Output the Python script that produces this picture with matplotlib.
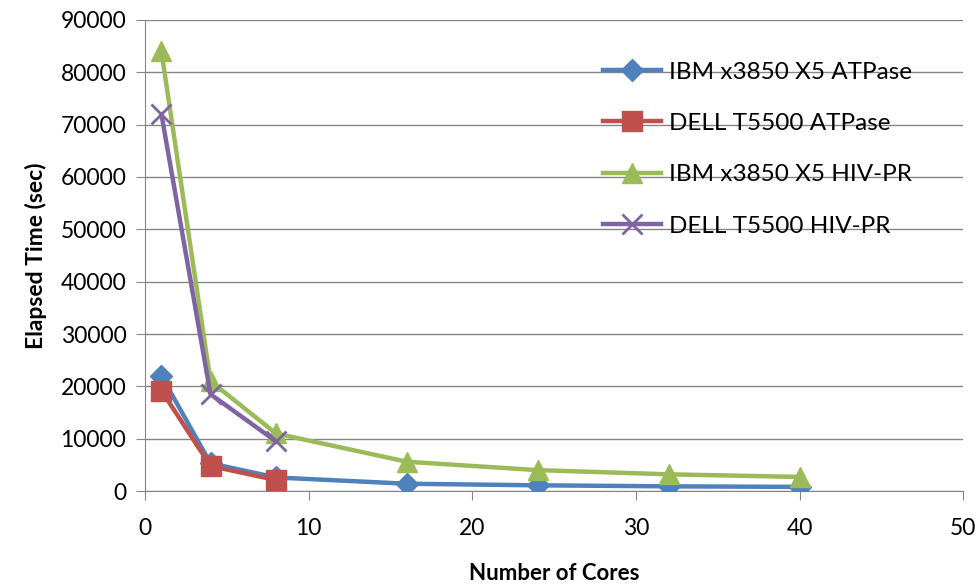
import matplotlib.pyplot as plt

plt.rcParams['font.family'] = ['Lato', 'DejaVu Sans']

# data
cores_full = [1, 4, 8, 16, 24, 32, 40]
cores_dell = [1, 4, 8]

ibm_atpase = [22000, 5300, 2600, 1400, 1100, 900, 800]
dell_atpase = [19200, 4800, 2100]
ibm_hiv = [84000, 21000, 11000, 5600, 4000, 3200, 2700]
dell_hiv = [72000, 18500, 9500]

labels = ["IBM x3850 X5 ATPase", "DELL T5500 ATPase",
          "IBM x3850 X5 HIV-PR", "DELL T5500 HIV-PR"]
colors = ['#4F81BD', '#C0504D', '#9BBB59', '#8064A2']

fig = plt.figure(figsize=(9.8, 5.86), dpi=100)
ax = fig.add_axes([0.148, 0.162, 0.835, 0.804])

ax.plot(cores_full, ibm_atpase, color=colors[0], lw=3.2, marker='D', ms=11,
        label=labels[0], zorder=3)
ax.plot(cores_dell, dell_atpase, color=colors[1], lw=3.2, marker='s', ms=14,
        label=labels[1], zorder=4)
ax.plot(cores_full, ibm_hiv, color=colors[2], lw=3.2, marker='^', ms=15,
        label=labels[2], zorder=3)
ax.plot(cores_dell, dell_hiv, color=colors[3], lw=3.2, marker='x', ms=15,
        mew=2, label=labels[3], zorder=4)

ax.set_xlim(0, 50)
ax.set_ylim(0, 90000)
ax.set_xticks(range(0, 51, 10))
ax.set_yticks(range(0, 90001, 10000))
ax.grid(axis='y', color='#868686', lw=1)
ax.set_axisbelow(True)
for side in ['top', 'right']:
    ax.spines[side].set_visible(False)
for side in ['left', 'bottom']:
    ax.spines[side].set_color('#868686')
ax.tick_params(colors='#868686', labelcolor='black', labelsize=16.5,
               direction='out', length=6.5)
ax.tick_params(axis='x', pad=13)
ax.tick_params(axis='y', pad=7)

ax.set_xlabel('Number of Cores', fontsize=16, fontweight='bold', labelpad=17)
ax.set_ylabel('Elapsed Time (sec)', fontsize=16.5, fontweight='bold', labelpad=10)

ax.legend(loc='upper left', bbox_to_anchor=(0.533, 0.958), frameon=False,
          fontsize=17.5, handlelength=2.4, labelspacing=1.25, handletextpad=0.3)

fig.savefig('out.png', dpi=100)
